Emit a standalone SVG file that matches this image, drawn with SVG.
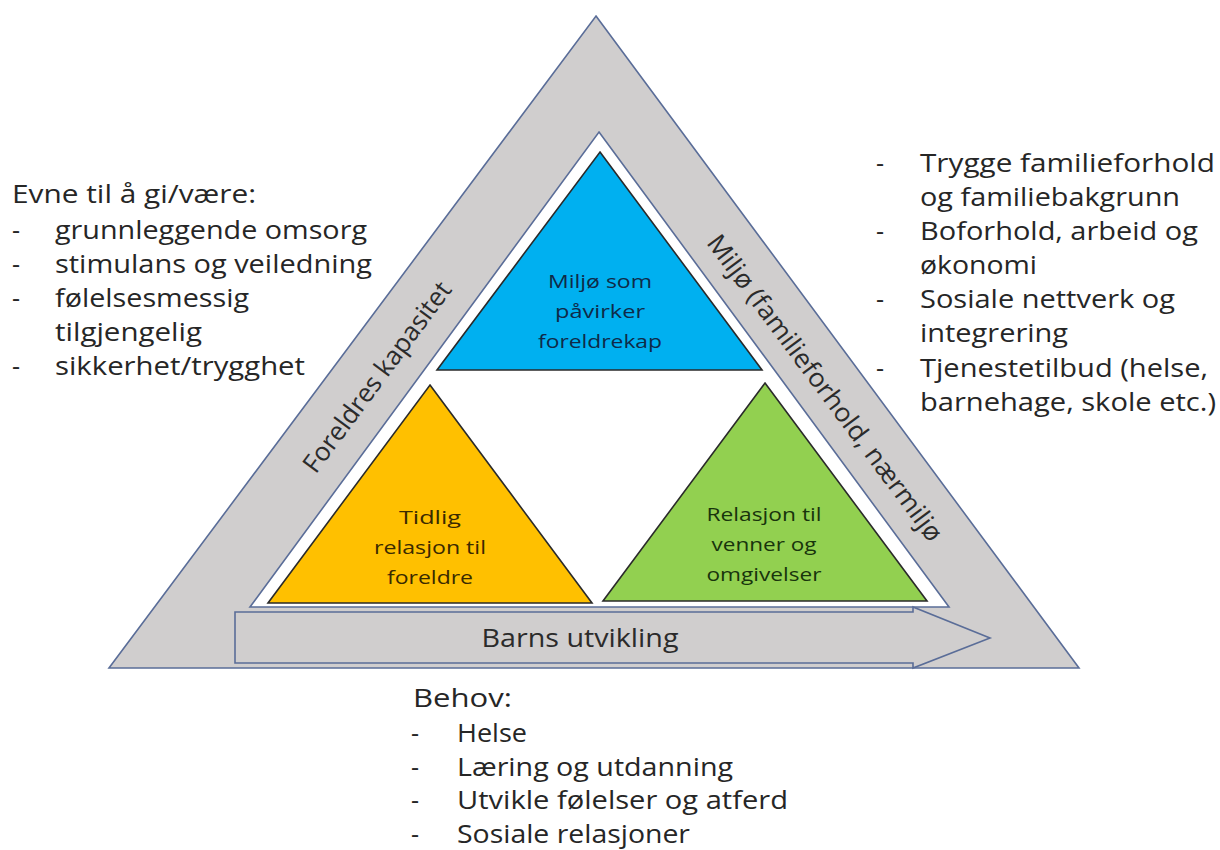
<svg xmlns="http://www.w3.org/2000/svg" width="1220" height="850" viewBox="0 0 1220 850">
<style>
.t{font-family:"Open Sans","Noto Sans","Liberation Sans",sans-serif;font-size:25px;fill:#262626}
.r{font-family:"Open Sans","Noto Sans","Liberation Sans",sans-serif;font-size:26px;fill:#2b2b2b;text-anchor:middle}
.in{font-family:"Open Sans","Noto Sans","Liberation Sans",sans-serif;font-size:18px;text-anchor:middle}
.band{fill:#d0cece;stroke:#5a6d98;stroke-width:1.6;stroke-linejoin:miter}
.tri{stroke:#2a2a2a;stroke-width:1.6}
</style>
<rect width="1220" height="850" fill="#ffffff"/>

<g id="outer-triangle">
  <polygon class="band" points="596,16 1079,668 109,668"/>
  <text class="r" transform="translate(377,377) rotate(-53.5)" x="0" y="9" textLength="230" lengthAdjust="spacingAndGlyphs">Foreldres kapasitet</text>
  <text class="r" transform="translate(825,388) rotate(53.3)" x="0" y="9" textLength="375" lengthAdjust="spacingAndGlyphs">Miljø (familieforhold, nærmiljø</text>
</g>

<g id="inner-triangle">
  <polygon points="599,132 949,607 250,607" fill="#ffffff" stroke="#5a6d98" stroke-width="1.6"/>
</g>

<g id="node-miljo">
  <polygon class="tri" points="600,152 762,370 437,370" fill="#00b0f0"/>
  <text class="in" fill="#0f2a48" x="600" y="288" textLength="104" lengthAdjust="spacingAndGlyphs">Miljø som</text>
  <text class="in" fill="#0f2a48" x="600" y="318" textLength="90" lengthAdjust="spacingAndGlyphs">påvirker</text>
  <text class="in" fill="#0f2a48" x="600" y="348" textLength="124" lengthAdjust="spacingAndGlyphs">foreldrekap</text>
</g>

<g id="node-tidlig">
  <polygon class="tri" points="430,385 592,603 268,603" fill="#ffc000"/>
  <text class="in" fill="#3a2a00" x="430" y="524" textLength="62" lengthAdjust="spacingAndGlyphs">Tidlig</text>
  <text class="in" fill="#3a2a00" x="430" y="554" textLength="112" lengthAdjust="spacingAndGlyphs">relasjon til</text>
  <text class="in" fill="#3a2a00" x="430" y="584" textLength="86" lengthAdjust="spacingAndGlyphs">foreldre</text>
</g>

<g id="node-relasjon">
  <polygon class="tri" points="765,383 927,601 603,601" fill="#92d050"/>
  <text class="in" fill="#18340c" x="764" y="521" textLength="115" lengthAdjust="spacingAndGlyphs">Relasjon til</text>
  <text class="in" fill="#18340c" x="764" y="551" textLength="105" lengthAdjust="spacingAndGlyphs">venner og</text>
  <text class="in" fill="#18340c" x="764" y="581" textLength="115" lengthAdjust="spacingAndGlyphs">omgivelser</text>
</g>

<g id="connectors">
  <g id="arrow-barns-utvikling">
    <polygon points="235,612 913,612 913,607 990,638 913,668 913,663 235,663" fill="#d0cece" stroke="#5a6d98" stroke-width="1.6"/>
    <text class="r" x="580" y="647" fill="#262626" textLength="197" lengthAdjust="spacingAndGlyphs">Barns utvikling</text>
  </g>
</g>

<g id="left-list">
  <text class="t" x="12" y="203" textLength="244" lengthAdjust="spacingAndGlyphs">Evne til å gi/være:</text>
  <text class="t" x="12" y="239">-</text>
  <text class="t" x="55" y="239" textLength="312" lengthAdjust="spacingAndGlyphs">grunnleggende omsorg</text>
  <text class="t" x="12" y="273">-</text>
  <text class="t" x="55" y="273" textLength="317" lengthAdjust="spacingAndGlyphs">stimulans og veiledning</text>
  <text class="t" x="12" y="307">-</text>
  <text class="t" x="55" y="307" textLength="194" lengthAdjust="spacingAndGlyphs">følelsesmessig</text>
  <text class="t" x="55" y="341" textLength="147" lengthAdjust="spacingAndGlyphs">tilgjengelig</text>
  <text class="t" x="12" y="375">-</text>
  <text class="t" x="55" y="375" textLength="250" lengthAdjust="spacingAndGlyphs">sikkerhet/trygghet</text>
</g>

<g id="right-list">
  <text class="t" x="876" y="172">-</text>
  <text class="t" x="920" y="172" textLength="295" lengthAdjust="spacingAndGlyphs">Trygge familieforhold</text>
  <text class="t" x="920" y="206" textLength="260" lengthAdjust="spacingAndGlyphs">og familiebakgrunn</text>
  <text class="t" x="876" y="240">-</text>
  <text class="t" x="920" y="240" textLength="278" lengthAdjust="spacingAndGlyphs">Boforhold, arbeid og</text>
  <text class="t" x="920" y="274" textLength="117" lengthAdjust="spacingAndGlyphs">økonomi</text>
  <text class="t" x="876" y="308">-</text>
  <text class="t" x="920" y="308" textLength="255" lengthAdjust="spacingAndGlyphs">Sosiale nettverk og</text>
  <text class="t" x="920" y="342" textLength="148" lengthAdjust="spacingAndGlyphs">integrering</text>
  <text class="t" x="876" y="377">-</text>
  <text class="t" x="920" y="377" textLength="288" lengthAdjust="spacingAndGlyphs">Tjenestetilbud (helse,</text>
  <text class="t" x="920" y="411" textLength="296" lengthAdjust="spacingAndGlyphs">barnehage, skole etc.)</text>
</g>

<g id="bottom-list">
  <text class="t" x="413" y="707" textLength="99" lengthAdjust="spacingAndGlyphs">Behov:</text>
  <text class="t" x="411" y="742">-</text>
  <text class="t" x="457" y="742" textLength="70" lengthAdjust="spacingAndGlyphs">Helse</text>
  <text class="t" x="411" y="776">-</text>
  <text class="t" x="457" y="776" textLength="276" lengthAdjust="spacingAndGlyphs">Læring og utdanning</text>
  <text class="t" x="411" y="809">-</text>
  <text class="t" x="457" y="809" textLength="331" lengthAdjust="spacingAndGlyphs">Utvikle følelser og atferd</text>
  <text class="t" x="411" y="843">-</text>
  <text class="t" x="457" y="843" textLength="233" lengthAdjust="spacingAndGlyphs">Sosiale relasjoner</text>
</g>
</svg>
